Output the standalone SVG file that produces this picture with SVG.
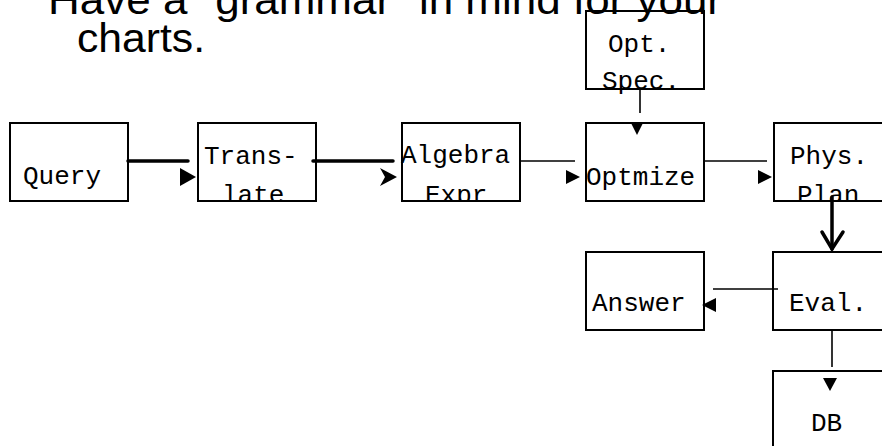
<svg xmlns="http://www.w3.org/2000/svg" width="882" height="446" viewBox="0 0 882 446">
<style>
.box{fill:none;stroke:#000;stroke-width:2}
.lbl{font-family:"Liberation Mono","Courier New",monospace;font-size:26px;fill:#000}
.title{font-family:"Liberation Sans",Arial,sans-serif;font-size:40px;fill:#000}
.thick{stroke:#000;stroke-width:3.5;stroke-linecap:round;fill:none}
.thin{stroke:#000;stroke-width:1.6;fill:none}
.head{fill:#000;stroke:none}
</style>
<defs>
<clipPath id="clipRow"><rect x="0" y="100" width="882" height="101"/></clipPath>
</defs>
<rect width="882" height="446" fill="#fff"/>
<g id="title">
<text class="title" x="48" y="14" textLength="674" lengthAdjust="spacingAndGlyphs">Have a "grammar" in mind for your</text>
<text class="title" x="77" y="52" textLength="128" lengthAdjust="spacingAndGlyphs">charts.</text>
</g>
<g id="connectors">
<line class="thick" x1="128" y1="161" x2="188" y2="161"/>
<polygon class="head" points="180,168 196,177 180,186"/>
<line class="thick" x1="313" y1="161" x2="393" y2="161"/>
<polygon class="head" points="380,168 397,177 380,186 385,177"/>
<line class="thin" x1="520" y1="161" x2="575" y2="161"/>
<polygon class="head" points="566,170 580,177 566,184"/>
<line class="thin" x1="704" y1="161" x2="767" y2="161"/>
<polygon class="head" points="758,170 772,177 758,184"/>
<line class="thin" x1="640" y1="89" x2="640" y2="113"/>
<polygon class="head" points="631,123 643,123 637,135"/>
<line class="thick" x1="832" y1="197" x2="832" y2="249"/>
<polyline class="thick" points="822,232 832,249 843,232"/>
<line class="thin" x1="713" y1="289" x2="778" y2="289"/>
<polygon class="head" points="716,298 702,305 716,312"/>
<line class="thin" x1="832" y1="330" x2="832" y2="367"/>
<polygon class="head" points="823,378 837,378 830,391"/>
</g>
<g id="query">
<rect class="box" x="10" y="123" width="118" height="78"/>
<text class="lbl" x="23" y="184">Query</text>
</g>
<g id="translate">
<text class="lbl" x="204" y="164">Trans-</text>
<text class="lbl" x="222" y="203" clip-path="url(#clipRow)">late</text>
<rect class="box" x="198" y="123" width="118" height="78"/>
</g>
<g id="algebra">
<text class="lbl" x="401" y="163">Algebra</text>
<text class="lbl" x="425" y="203" clip-path="url(#clipRow)">Expr</text>
<rect class="box" x="402" y="123" width="118" height="78"/>
</g>
<g id="optimize">
<rect class="box" x="586" y="123" width="118" height="78"/>
<text class="lbl" x="586" y="185">Optmize</text>
</g>
<g id="phys">
<text class="lbl" x="790" y="164">Phys.</text>
<text class="lbl" x="797" y="203" clip-path="url(#clipRow)">Plan</text>
<rect class="box" x="774" y="123" width="118" height="78"/>
</g>
<g id="optspec">
<rect class="box" x="586" y="11" width="118" height="78"/>
<text class="lbl" x="608" y="52">Opt.</text>
<text class="lbl" x="602" y="89">Spec.</text>
</g>
<g id="answer">
<rect class="box" x="586" y="252" width="118" height="78"/>
<text class="lbl" x="592" y="311">Answer</text>
</g>
<g id="eval">
<rect class="box" x="773" y="252" width="118" height="78"/>
<text class="lbl" x="789" y="311">Eval.</text>
</g>
<g id="db">
<rect class="box" x="773" y="371" width="118" height="78"/>
<text class="lbl" x="811" y="431">DB</text>
</g>
</svg>
